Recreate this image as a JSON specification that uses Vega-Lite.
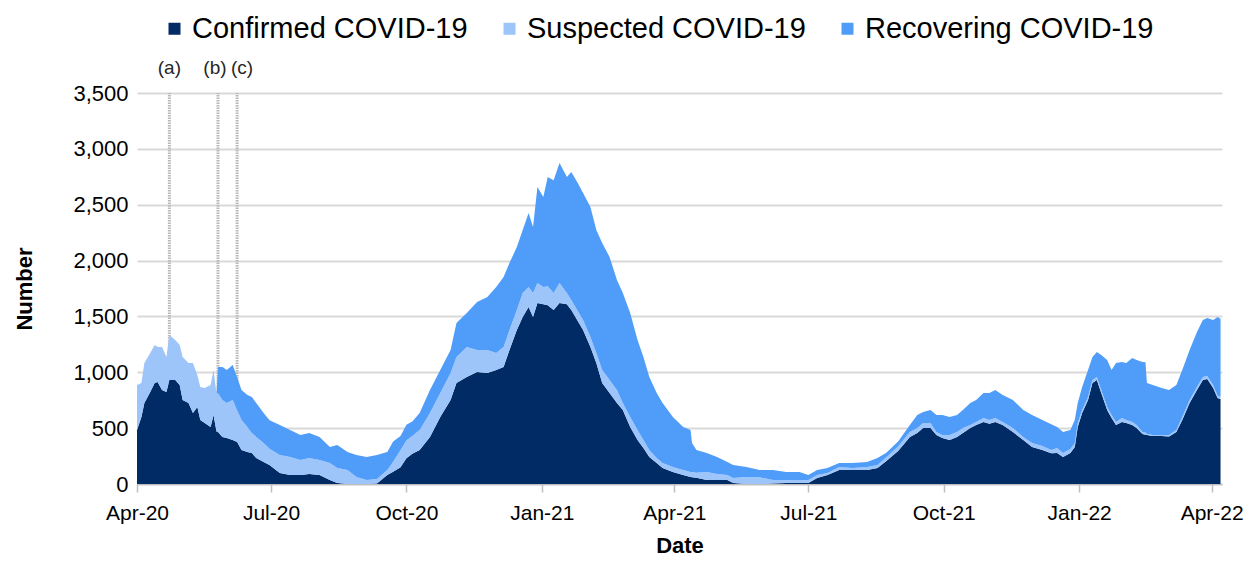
{
  "$schema": "https://vega.github.io/schema/vega-lite/v6.json",
  "width": 1085,
  "height": 391,
  "autosize": {"type": "none"},
  "padding": {"left": 137, "top": 93, "right": 33, "bottom": 81},
  "config": {"view": {"stroke": null}, "font": "Liberation Sans"},
  "datasets": {
    "markers": [
      {"date": "2020-04-23", "label": "(a)"},
      {"date": "2020-05-26", "label": "(b)"},
      {"date": "2020-06-08", "label": "(c)"}
    ]
  },
  "layer": [
    {
      "data": {"name": "markers"},
      "mark": {"type": "rule", "color": "#b8b8b8", "strokeWidth": 3, "strokeDash": [1.5, 1]},
      "encoding": {
        "x": {"field": "date", "type": "temporal"},
        "y": {"datum": 0},
        "y2": {"datum": 3500}
      }
    },
    {
      "data": {"name": "markers"},
      "transform": [{"filter": "datum.label == '(a)'"}],
      "mark": {"type": "text", "fontSize": 19, "color": "#262626", "baseline": "middle", "dy": -25},
      "encoding": {
        "x": {"field": "date", "type": "temporal"},
        "y": {"datum": 3500},
        "text": {"field": "label"}
      }
    },
    {
      "data": {"name": "markers"},
      "transform": [{"filter": "datum.label == '(b)'"}],
      "mark": {"type": "text", "fontSize": 19, "color": "#262626", "baseline": "middle", "dy": -25, "dx": -3},
      "encoding": {
        "x": {"field": "date", "type": "temporal"},
        "y": {"datum": 3500},
        "text": {"field": "label"}
      }
    },
    {
      "data": {"name": "markers"},
      "transform": [{"filter": "datum.label == '(c)'"}],
      "mark": {"type": "text", "fontSize": 19, "color": "#262626", "baseline": "middle", "dy": -25, "dx": 5},
      "encoding": {
        "x": {"field": "date", "type": "temporal"},
        "y": {"datum": 3500},
        "text": {"field": "label"}
      }
    },
    {
      "data": {"values": [
        {"date": "2020-04-01", "c": 483, "s": 403, "r": 0},
        {"date": "2020-04-04", "c": 600, "s": 304, "r": 0},
        {"date": "2020-04-06", "c": 725, "s": 358, "r": 0},
        {"date": "2020-04-10", "c": 823, "s": 349, "r": 0},
        {"date": "2020-04-13", "c": 904, "s": 340, "r": 0},
        {"date": "2020-04-15", "c": 913, "s": 313, "r": 0},
        {"date": "2020-04-18", "c": 841, "s": 385, "r": 0},
        {"date": "2020-04-21", "c": 823, "s": 314, "r": 0},
        {"date": "2020-04-23", "c": 930, "s": 404, "r": 0},
        {"date": "2020-04-27", "c": 930, "s": 359, "r": 0},
        {"date": "2020-04-30", "c": 886, "s": 358, "r": 0},
        {"date": "2020-05-02", "c": 752, "s": 385, "r": 0},
        {"date": "2020-05-06", "c": 725, "s": 358, "r": 0},
        {"date": "2020-05-09", "c": 635, "s": 448, "r": 0},
        {"date": "2020-05-12", "c": 689, "s": 287, "r": 0},
        {"date": "2020-05-14", "c": 573, "s": 295, "r": 0},
        {"date": "2020-05-17", "c": 546, "s": 313, "r": 0},
        {"date": "2020-05-21", "c": 510, "s": 376, "r": 0},
        {"date": "2020-05-23", "c": 617, "s": 403, "r": 0},
        {"date": "2020-05-25", "c": 470, "s": 340, "r": 0},
        {"date": "2020-05-26", "c": 465, "s": 349, "r": 233},
        {"date": "2020-05-29", "c": 421, "s": 331, "r": 295},
        {"date": "2020-06-01", "c": 412, "s": 313, "r": 295},
        {"date": "2020-06-05", "c": 394, "s": 358, "r": 313},
        {"date": "2020-06-08", "c": 376, "s": 286, "r": 296},
        {"date": "2020-06-11", "c": 304, "s": 269, "r": 268},
        {"date": "2020-06-15", "c": 286, "s": 224, "r": 287},
        {"date": "2020-06-18", "c": 277, "s": 179, "r": 323},
        {"date": "2020-06-21", "c": 233, "s": 188, "r": 304},
        {"date": "2020-06-26", "c": 197, "s": 170, "r": 268},
        {"date": "2020-06-30", "c": 170, "s": 145, "r": 255},
        {"date": "2020-07-07", "c": 98, "s": 162, "r": 268},
        {"date": "2020-07-14", "c": 80, "s": 162, "r": 241},
        {"date": "2020-07-21", "c": 80, "s": 135, "r": 223},
        {"date": "2020-07-27", "c": 90, "s": 143, "r": 223},
        {"date": "2020-08-03", "c": 80, "s": 135, "r": 206},
        {"date": "2020-08-10", "c": 36, "s": 152, "r": 143},
        {"date": "2020-08-15", "c": 8, "s": 135, "r": 206},
        {"date": "2020-08-22", "c": 0, "s": 125, "r": 161},
        {"date": "2020-08-28", "c": 0, "s": 63, "r": 197},
        {"date": "2020-09-04", "c": 0, "s": 36, "r": 206},
        {"date": "2020-09-11", "c": 5, "s": 40, "r": 215},
        {"date": "2020-09-18", "c": 80, "s": 45, "r": 161},
        {"date": "2020-09-22", "c": 110, "s": 90, "r": 180},
        {"date": "2020-09-27", "c": 150, "s": 154, "r": 126},
        {"date": "2020-10-01", "c": 230, "s": 160, "r": 140},
        {"date": "2020-10-05", "c": 270, "s": 160, "r": 130},
        {"date": "2020-10-10", "c": 304, "s": 179, "r": 152},
        {"date": "2020-10-17", "c": 421, "s": 214, "r": 206},
        {"date": "2020-10-24", "c": 600, "s": 214, "r": 206},
        {"date": "2020-10-31", "c": 752, "s": 241, "r": 206},
        {"date": "2020-11-04", "c": 904, "s": 233, "r": 304},
        {"date": "2020-11-11", "c": 958, "s": 268, "r": 304},
        {"date": "2020-11-18", "c": 1002, "s": 197, "r": 430},
        {"date": "2020-11-25", "c": 993, "s": 206, "r": 475},
        {"date": "2020-12-01", "c": 1020, "s": 152, "r": 591},
        {"date": "2020-12-06", "c": 1047, "s": 179, "r": 627},
        {"date": "2020-12-10", "c": 1199, "s": 179, "r": 600},
        {"date": "2020-12-15", "c": 1378, "s": 179, "r": 564},
        {"date": "2020-12-19", "c": 1495, "s": 214, "r": 564},
        {"date": "2020-12-23", "c": 1584, "s": 179, "r": 662},
        {"date": "2020-12-26", "c": 1495, "s": 214, "r": 591},
        {"date": "2020-12-29", "c": 1620, "s": 179, "r": 859},
        {"date": "2021-01-02", "c": 1610, "s": 153, "r": 806},
        {"date": "2021-01-05", "c": 1600, "s": 170, "r": 978},
        {"date": "2021-01-09", "c": 1557, "s": 152, "r": 1011},
        {"date": "2021-01-13", "c": 1620, "s": 179, "r": 1074},
        {"date": "2021-01-18", "c": 1610, "s": 99, "r": 1039},
        {"date": "2021-01-21", "c": 1557, "s": 90, "r": 1145},
        {"date": "2021-01-25", "c": 1468, "s": 89, "r": 1146},
        {"date": "2021-01-29", "c": 1378, "s": 90, "r": 1136},
        {"date": "2021-02-03", "c": 1226, "s": 90, "r": 1163},
        {"date": "2021-02-07", "c": 1083, "s": 89, "r": 1101},
        {"date": "2021-02-11", "c": 904, "s": 116, "r": 1137},
        {"date": "2021-02-16", "c": 814, "s": 116, "r": 1102},
        {"date": "2021-02-21", "c": 725, "s": 116, "r": 985},
        {"date": "2021-02-25", "c": 662, "s": 63, "r": 984},
        {"date": "2021-03-02", "c": 510, "s": 90, "r": 930},
        {"date": "2021-03-07", "c": 394, "s": 89, "r": 806},
        {"date": "2021-03-11", "c": 322, "s": 72, "r": 743},
        {"date": "2021-03-15", "c": 242, "s": 62, "r": 654},
        {"date": "2021-03-20", "c": 188, "s": 45, "r": 581},
        {"date": "2021-03-24", "c": 143, "s": 45, "r": 537},
        {"date": "2021-03-31", "c": 107, "s": 45, "r": 448},
        {"date": "2021-04-07", "c": 80, "s": 45, "r": 385},
        {"date": "2021-04-12", "c": 63, "s": 44, "r": 376},
        {"date": "2021-04-13", "c": 60, "s": 47, "r": 260},
        {"date": "2021-04-16", "c": 55, "s": 45, "r": 204},
        {"date": "2021-04-23", "c": 36, "s": 71, "r": 170},
        {"date": "2021-04-30", "c": 36, "s": 54, "r": 152},
        {"date": "2021-05-07", "c": 36, "s": 44, "r": 117},
        {"date": "2021-05-11", "c": 10, "s": 44, "r": 116},
        {"date": "2021-05-20", "c": 0, "s": 63, "r": 89},
        {"date": "2021-05-29", "c": 0, "s": 60, "r": 65},
        {"date": "2021-06-07", "c": 5, "s": 31, "r": 89},
        {"date": "2021-06-16", "c": 10, "s": 26, "r": 71},
        {"date": "2021-06-25", "c": 10, "s": 26, "r": 71},
        {"date": "2021-07-01", "c": 10, "s": 26, "r": 44},
        {"date": "2021-07-07", "c": 54, "s": 26, "r": 45},
        {"date": "2021-07-14", "c": 80, "s": 18, "r": 45},
        {"date": "2021-07-22", "c": 125, "s": 27, "r": 36},
        {"date": "2021-07-31", "c": 125, "s": 18, "r": 45},
        {"date": "2021-08-10", "c": 125, "s": 27, "r": 45},
        {"date": "2021-08-17", "c": 143, "s": 27, "r": 63},
        {"date": "2021-08-23", "c": 205, "s": 35, "r": 40},
        {"date": "2021-08-31", "c": 295, "s": 40, "r": 45},
        {"date": "2021-09-08", "c": 421, "s": 44, "r": 63},
        {"date": "2021-09-13", "c": 456, "s": 45, "r": 116},
        {"date": "2021-09-17", "c": 501, "s": 45, "r": 98},
        {"date": "2021-09-22", "c": 501, "s": 45, "r": 116},
        {"date": "2021-09-26", "c": 438, "s": 27, "r": 152},
        {"date": "2021-09-30", "c": 412, "s": 26, "r": 179},
        {"date": "2021-10-05", "c": 394, "s": 44, "r": 162},
        {"date": "2021-10-10", "c": 421, "s": 44, "r": 152},
        {"date": "2021-10-14", "c": 456, "s": 45, "r": 161},
        {"date": "2021-10-19", "c": 501, "s": 27, "r": 197},
        {"date": "2021-10-23", "c": 528, "s": 27, "r": 197},
        {"date": "2021-10-28", "c": 555, "s": 35, "r": 224},
        {"date": "2021-11-01", "c": 540, "s": 33, "r": 241},
        {"date": "2021-11-05", "c": 555, "s": 35, "r": 251},
        {"date": "2021-11-10", "c": 528, "s": 27, "r": 242},
        {"date": "2021-11-17", "c": 465, "s": 36, "r": 251},
        {"date": "2021-11-24", "c": 394, "s": 27, "r": 241},
        {"date": "2021-11-30", "c": 331, "s": 36, "r": 250},
        {"date": "2021-12-07", "c": 304, "s": 36, "r": 233},
        {"date": "2021-12-13", "c": 275, "s": 30, "r": 230},
        {"date": "2021-12-17", "c": 277, "s": 45, "r": 188},
        {"date": "2021-12-21", "c": 242, "s": 35, "r": 188},
        {"date": "2021-12-26", "c": 277, "s": 36, "r": 170},
        {"date": "2021-12-29", "c": 331, "s": 36, "r": 206},
        {"date": "2021-12-31", "c": 510, "s": 36, "r": 179},
        {"date": "2022-01-03", "c": 635, "s": 27, "r": 206},
        {"date": "2022-01-07", "c": 752, "s": 27, "r": 241},
        {"date": "2022-01-10", "c": 904, "s": 26, "r": 207},
        {"date": "2022-01-13", "c": 930, "s": 28, "r": 223},
        {"date": "2022-01-16", "c": 814, "s": 27, "r": 314},
        {"date": "2022-01-20", "c": 662, "s": 27, "r": 421},
        {"date": "2022-01-23", "c": 590, "s": 27, "r": 403},
        {"date": "2022-01-26", "c": 528, "s": 27, "r": 528},
        {"date": "2022-01-30", "c": 555, "s": 35, "r": 502},
        {"date": "2022-02-02", "c": 546, "s": 27, "r": 510},
        {"date": "2022-02-06", "c": 528, "s": 27, "r": 573},
        {"date": "2022-02-09", "c": 501, "s": 27, "r": 582},
        {"date": "2022-02-13", "c": 447, "s": 18, "r": 627},
        {"date": "2022-02-15", "c": 440, "s": 20, "r": 630},
        {"date": "2022-02-16", "c": 438, "s": 9, "r": 457},
        {"date": "2022-02-20", "c": 430, "s": 8, "r": 448},
        {"date": "2022-02-26", "c": 430, "s": 8, "r": 421},
        {"date": "2022-03-03", "c": 425, "s": 13, "r": 403},
        {"date": "2022-03-08", "c": 465, "s": 18, "r": 403},
        {"date": "2022-03-12", "c": 573, "s": 27, "r": 420},
        {"date": "2022-03-17", "c": 725, "s": 27, "r": 447},
        {"date": "2022-03-22", "c": 841, "s": 27, "r": 492},
        {"date": "2022-03-26", "c": 930, "s": 28, "r": 510},
        {"date": "2022-03-29", "c": 940, "s": 27, "r": 519},
        {"date": "2022-04-02", "c": 860, "s": 26, "r": 582},
        {"date": "2022-04-05", "c": 770, "s": 20, "r": 705},
        {"date": "2022-04-07", "c": 760, "s": 20, "r": 700}
      ]},
      "transform": [
        {"fold": ["c", "s", "r"], "as": ["key", "value"]},
        {"lookup": "key", "from": {"data": {"values": [
          {"key": "c", "series": "Confirmed COVID-19", "rank": 1},
          {"key": "s", "series": "Suspected COVID-19", "rank": 2},
          {"key": "r", "series": "Recovering COVID-19", "rank": 3}
        ]}, "key": "key", "fields": ["series", "rank"]}}
      ],
      "mark": {"type": "area", "interpolate": "linear"},
      "encoding": {
        "x": {
          "field": "date", "type": "temporal",
          "scale": {"type": "utc", "nice": false, "domain": [
            {"year": 2020, "month": 4, "date": 1, "utc": true},
            {"year": 2022, "month": 4, "date": 8, "utc": true}
          ]},
          "axis": {
            "title": "Date", "titleFontSize": 22, "titleFontWeight": "bold", "titleColor": "#000", "titlePadding": 12,
            "format": "%b-%y", "labelFontSize": 21, "labelColor": "#000", "labelPadding": 10,
            "values": [
              {"year": 2020, "month": 4, "date": 1, "utc": true},
              {"year": 2020, "month": 7, "date": 1, "utc": true},
              {"year": 2020, "month": 10, "date": 1, "utc": true},
              {"year": 2021, "month": 1, "date": 1, "utc": true},
              {"year": 2021, "month": 4, "date": 1, "utc": true},
              {"year": 2021, "month": 7, "date": 1, "utc": true},
              {"year": 2021, "month": 10, "date": 1, "utc": true},
              {"year": 2022, "month": 1, "date": 1, "utc": true},
              {"year": 2022, "month": 4, "date": 1, "utc": true}
            ],
            "grid": false, "domainColor": "#bfbfbf", "domainWidth": 1.5,
            "tickColor": "#bfbfbf", "tickSize": 8, "tickWidth": 1.5, "labelFlush": false
          }
        },
        "y": {
          "field": "value", "type": "quantitative", "stack": "zero",
          "scale": {"domain": [0, 3500], "nice": false},
          "axis": {
            "title": "Number", "titleFontSize": 22, "titleFontWeight": "bold", "titleColor": "#000", "titlePadding": 36,
            "values": [0, 500, 1000, 1500, 2000, 2500, 3000, 3500], "format": ",.0f",
            "labelFontSize": 22, "labelColor": "#000", "labelPadding": 9,
            "grid": true, "gridColor": "#d9d9d9", "gridWidth": 2,
            "domain": false, "ticks": false, "tickSize": 0
          }
        },
        "color": {
          "field": "series", "type": "nominal",
          "scale": {
            "domain": ["Confirmed COVID-19", "Suspected COVID-19", "Recovering COVID-19"],
            "range": ["#002B65", "#9EC5FA", "#4F9CF9"]
          },
          "legend": {
            "title": null, "orient": "none", "direction": "horizontal",
            "legendX": 23, "legendY": -79, "padding": 0,
            "symbolType": "square", "symbolSize": 144, "symbolStrokeWidth": 0, "symbolOpacity": 1,
            "labelFontSize": 29, "labelColor": "#000", "labelOffset": 3, "labelLimit": 1000, "columnPadding": 27
          }
        },
        "order": {"field": "rank", "type": "quantitative", "sort": "ascending"}
      }
    }
  ]
}
